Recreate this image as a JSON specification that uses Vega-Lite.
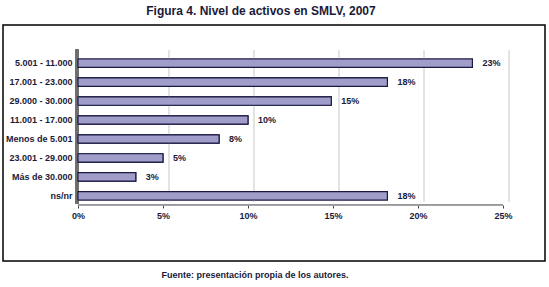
{
  "$schema": "https://vega.github.io/schema/vega-lite/v6.json",
  "width": 542,
  "height": 236,
  "autosize": "none",
  "padding": {"left": 3, "top": 25, "right": 4, "bottom": 26},
  "background": "white",
  "config": {
    "view": {"stroke": "black", "strokeWidth": 1.5},
    "font": "Liberation Sans, sans-serif"
  },
  "title": {
    "text": "Figura 4. Nivel de activos en SMLV, 2007",
    "fontSize": 12,
    "fontWeight": "bold",
    "font": "Liberation Sans, sans-serif",
    "color": "#1a1a3a",
    "offset": 7,
    "anchor": "middle",
    "dx": -13
  },
  "datasets": {
    "bars": [
      {"category": "5.001 - 11.000", "value": 23.2, "label": "23%"},
      {"category": "17.001 - 23.000", "value": 18.2, "label": "18%"},
      {"category": "29.000 - 30.000", "value": 14.9, "label": "15%"},
      {"category": "11.001 - 17.000", "value": 10.0, "label": "10%"},
      {"category": "Menos de 5.001", "value": 8.3, "label": "8%"},
      {"category": "23.001 - 29.000", "value": 5.0, "label": "5%"},
      {"category": "Más de 30.000", "value": 3.4, "label": "3%"},
      {"category": "ns/nr", "value": 18.2, "label": "18%"}
    ],
    "grid": [{"v": 5}, {"v": 10}, {"v": 15}, {"v": 20}, {"v": 25}]
  },
  "layer": [
    {
      "data": {"name": "bars"},
      "mark": {"type": "bar", "fill": "#a09dcb", "stroke": "#1a1a40", "strokeWidth": 1.2},
      "encoding": {
        "y": {
          "field": "category",
          "type": "nominal",
          "sort": null,
          "scale": {
            "domain": ["5.001 - 11.000", "17.001 - 23.000", "29.000 - 30.000", "11.001 - 17.000", "Menos de 5.001", "23.001 - 29.000", "Más de 30.000", "ns/nr"],
            "range": [34, 175],
            "paddingInner": 0.56,
            "paddingOuter": 0
          },
          "axis": {
            "orient": "left",
            "offset": -75,
            "title": null,
            "domain": false,
            "ticks": false,
            "labelPadding": 6,
            "labelFontSize": 9,
            "labelFontWeight": "bold",
            "labelColor": "#1a1a3a"
          }
        },
        "x": {
          "field": "value",
          "type": "quantitative",
          "scale": {"domain": [-4.41, 27.47], "nice": false, "zero": false},
          "axis": {
            "values": [0, 5, 10, 15, 20, 25],
            "labelExpr": "datum.value + '%'",
            "grid": false,
            "domain": false,
            "offset": -56,
            "tickSize": 3,
            "tickColor": "#444444",
            "labelFontSize": 9,
            "labelFontWeight": "bold",
            "labelColor": "#1a1a3a",
            "labelPadding": 3,
            "title": "Fuente: presentación propia de los autores.",
            "titleFontSize": 9,
            "titleFontWeight": "bold",
            "titleColor": "#1a1a3a",
            "titleBaseline": "middle",
            "titleAlign": "center",
            "titleX": 251.5,
            "titleY": 69
          }
        },
        "x2": {"datum": 0}
      }
    },
    {
      "data": {"name": "grid"},
      "mark": {"type": "rule", "color": "#c8c8c8", "strokeWidth": 1, "xOffset": 6, "yOffset": -13, "y2Offset": 6},
      "encoding": {
        "x": {"field": "v", "type": "quantitative"},
        "y": {"datum": "5.001 - 11.000", "type": "nominal"},
        "y2": {"datum": "ns/nr"}
      }
    },
    {
      "data": {"name": "grid"},
      "mark": {"type": "rule", "color": "#6e6e6e", "strokeWidth": 3, "xOffset": -1, "yOffset": -14, "y2Offset": 8},
      "encoding": {
        "x": {"datum": 0, "type": "quantitative"},
        "y": {"datum": "5.001 - 11.000", "type": "nominal"},
        "y2": {"datum": "ns/nr"}
      }
    },
    {
      "data": {"name": "grid"},
      "mark": {"type": "rule", "color": "#999999", "strokeWidth": 1, "yOffset": 9},
      "encoding": {
        "x": {"datum": 0, "type": "quantitative"},
        "x2": {"datum": 25},
        "y": {"datum": "ns/nr", "type": "nominal"}
      }
    },
    {
      "data": {"name": "bars"},
      "mark": {"type": "bar", "fill": "#a09dcb", "stroke": "#1a1a40", "strokeWidth": 1.2},
      "encoding": {
        "y": {"field": "category", "type": "nominal", "sort": null},
        "x": {"field": "value", "type": "quantitative"},
        "x2": {"datum": 0}
      }
    },
    {
      "data": {"name": "bars"},
      "mark": {"type": "text", "align": "left", "baseline": "middle", "dx": 10, "fontSize": 9, "fontWeight": "bold", "color": "#1a1a3a"},
      "encoding": {
        "y": {"field": "category", "type": "nominal", "sort": null},
        "x": {"field": "value", "type": "quantitative"},
        "text": {"field": "label"}
      }
    }
  ]
}
